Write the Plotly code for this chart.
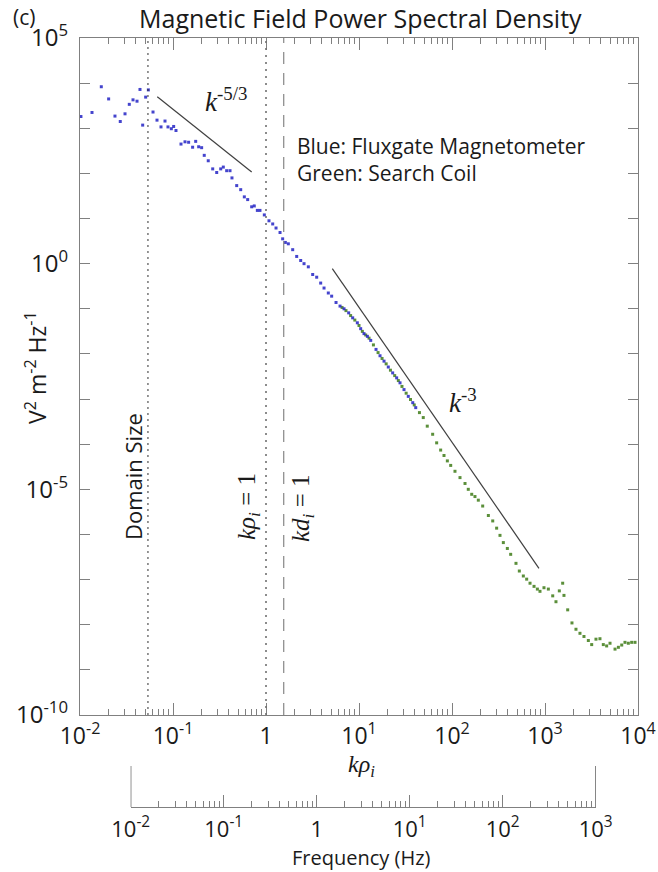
import numpy as np
import plotly.graph_objects as go

# ---------------- data (log10 values) ----------------
blue_log_k = [-1.99, -1.871, -1.771, -1.692, -1.624, -1.567, -1.516, -1.47, -1.43, -1.387,
              -1.355, -1.326, -1.294, -1.265, -1.215, -1.172, -1.129, -1.086, -1.054, -1.018,
              -0.993, -0.968, -0.914, -0.871, -0.832, -0.789, -0.756, -0.724, -0.692, -0.664,
              -0.621, -0.573, -0.530, -0.487, -0.459, -0.423, -0.387, -0.366, -0.315, -0.272,
              -0.233, -0.197, -0.154, -0.126, -0.093, -0.065, -0.018, 0.032, 0.072, 0.108,
              0.151, 0.179, 0.208, 0.240, 0.287, 0.330, 0.373, 0.409, 0.455, 0.502,
              0.545, 0.588, 0.624, 0.670, 0.706, 0.753, 0.796, 0.839, 0.889, 0.932,
              0.982, 1.018, 1.054, 1.090, 1.126, 1.183, 1.226, 1.269, 1.315, 1.362,
              1.405, 1.441, 1.484, 1.530, 1.578, 1.610]
blue_log_psd = [3.26, 3.35, 3.92, 3.65, 3.27, 3.15, 3.32, 3.53, 3.63, 3.60,
                3.86, 3.07, 3.69, 3.85, 3.36, 3.18, 3.03, 3.16, 3.03, 2.99,
                3.04, 2.95, 2.65, 2.70, 2.69, 2.58, 2.71, 2.59, 2.57, 2.40,
                2.28, 2.10, 2.02, 2.10, 2.14, 2.06, 2.06, 1.90, 1.73, 1.64,
                1.48, 1.42, 1.26, 1.28, 1.18, 1.18, 1.08, 0.95, 0.88, 0.79,
                0.69, 0.55, 0.47, 0.44, 0.31, 0.16, 0.07, 0.00, -0.07, -0.24,
                -0.30, -0.43, -0.54, -0.65, -0.72, -0.86, -0.94, -1.00, -1.09, -1.20,
                -1.31, -1.44, -1.55, -1.61, -1.70, -1.90, -2.04, -2.16, -2.29, -2.42,
                -2.53, -2.64, -2.79, -2.94, -3.08, -3.19]

green_log_k = [0.818, 0.860, 0.910, 0.955, 1.000, 1.036, 1.072, 1.108, 1.155, 1.205,
               1.248, 1.292, 1.338, 1.384, 1.423, 1.462, 1.507, 1.554, 1.594, 1.650,
               1.691, 1.734, 1.792, 1.835, 1.878, 1.914, 1.950, 1.986, 2.032, 2.086,
               2.140, 2.175, 2.212, 2.247, 2.283, 2.330, 2.391, 2.438, 2.480, 2.516,
               2.552, 2.595, 2.631, 2.688, 2.724, 2.767, 2.803, 2.839, 2.882, 2.918,
               2.946, 2.989, 3.036, 3.083, 3.118, 3.154, 3.190, 3.204, 3.244, 3.290,
               3.333, 3.376, 3.419, 3.466, 3.502, 3.548, 3.591, 3.627, 3.663, 3.699,
               3.753, 3.789, 3.825, 3.860, 3.896, 3.932, 3.968]
green_log_psd = [-0.97, -1.04, -1.15, -1.25, -1.37, -1.50, -1.58, -1.65, -1.80, -1.97,
                 -2.10, -2.22, -2.36, -2.48, -2.59, -2.72, -2.87, -3.01, -3.13, -3.30,
                 -3.41, -3.60, -3.78, -3.97, -4.13, -4.25, -4.37, -4.47, -4.60, -4.74,
                 -4.87, -5.00, -5.11, -5.16, -5.24, -5.37, -5.58, -5.70, -5.86, -6.02,
                 -6.18, -6.31, -6.44, -6.64, -6.81, -6.92, -6.99, -7.08, -7.15, -7.21,
                 -7.26, -7.18, -7.21, -7.36, -7.49, -7.25, -7.08, -7.35, -7.67, -7.96,
                 -8.10, -8.19, -8.26, -8.35, -8.44, -8.32, -8.31, -8.44, -8.47, -8.41,
                 -8.54, -8.50, -8.45, -8.39, -8.41, -8.39, -8.39]

slope53_log_k = [-1.169, -0.154]
slope53_log_psd = [3.70, 2.03]
slope3_log_k = [0.713, 2.935]
slope3_log_psd = [-0.11, -6.75]

domain_size_k = 0.0538
k_rho_one = 1.0
k_di_one = 1.55

x_tick_vals = [1e-2, 1e-1, 1, 1e1, 1e2, 1e3, 1e4]
x_tick_text = ["10<sup>-2</sup>", "10<sup>-1</sup>", "1", "10<sup>1</sup>",
               "10<sup>2</sup>", "10<sup>3</sup>", "10<sup>4</sup>"]
freq_tick_vals = [1e-2, 1e-1, 1, 1e1, 1e2, 1e3]
freq_tick_text = ["10<sup>-2</sup>", "10<sup>-1</sup>", "1", "10<sup>1</sup>",
                  "10<sup>2</sup>", "10<sup>3</sup>"]
y_exponents = list(range(-10, 6))
y_tick_labels = {5: "10<sup>5</sup>", 0: "10<sup>0</sup>", -5: "10<sup>-5</sup>", -10: "10<sup>-10</sup>"}

# ---------------- helpers ----------------
def to_lin(vals):
    return np.power(10.0, np.array(vals, dtype=float))

W, H = 658, 872
ML, MR, MT, MB = 80, 20, 38, 65
PW = W - ML - MR
PH = H - MT - MB

def px(x):
    return (x - ML) / PW

def py(y):
    return (H - MB - y) / PH

AX = "#808080"
TXT = "#1a1a1a"
SANS = "Open Sans"
SERIF = "Liberation Serif"

def minor_vals(lo, hi):
    return [m * 10.0 ** d for d in range(lo, hi) for m in range(2, 10)]

fig = go.Figure()

fig.add_trace(go.Scatter(x=to_lin(green_log_k), y=to_lin(green_log_psd), mode="markers",
                         marker=dict(symbol="square", size=3, color="#5b8f3a"),
                         xaxis="x", yaxis="y", showlegend=False))
fig.add_trace(go.Scatter(x=to_lin(blue_log_k), y=to_lin(blue_log_psd), mode="markers",
                         marker=dict(symbol="square", size=3, color="#2323c4", opacity=0.85),
                         xaxis="x", yaxis="y", showlegend=False))
fig.add_trace(go.Scatter(x=to_lin(slope53_log_k), y=to_lin(slope53_log_psd), mode="lines",
                         line=dict(color="#404040", width=1.2), showlegend=False))
fig.add_trace(go.Scatter(x=to_lin(slope3_log_k), y=to_lin(slope3_log_psd), mode="lines",
                         line=dict(color="#404040", width=1.2), showlegend=False))

# vertical reference lines
fig.add_shape(type="line", xref="x", yref="y domain", x0=domain_size_k, x1=domain_size_k,
              y0=0, y1=1, line=dict(color="#303030", width=1, dash="2px,4px"))
fig.add_shape(type="line", xref="x", yref="y domain", x0=k_rho_one, x1=k_rho_one,
              y0=0, y1=1, line=dict(color="#707070", width=1.6, dash="2px,5px"))
fig.add_shape(type="line", xref="x", yref="y domain", x0=k_di_one, x1=k_di_one,
              y0=0, y1=1, line=dict(color="#909090", width=1.3, dash="12px,9px"))

# end bars of the frequency axis
for fv in (freq_tick_vals[0], freq_tick_vals[-1]):
    fig.add_shape(type="line", xref="x2", yref="y2 domain", x0=fv, x1=fv, y0=0, y1=1,
                  line=dict(color="#404040", width=1.2))

ann = []
def text(x, y, s, size, font=SANS, angle=0, xanchor="center", color=TXT, align="center"):
    ann.append(dict(x=px(x), y=py(y), xref="paper", yref="paper", text=s, showarrow=False,
                    font=dict(family=font, size=size, color=color), textangle=angle,
                    xanchor=xanchor, yanchor="middle", align=align, borderpad=0))

text(360, 18, "Magnetic Field Power Spectral Density", 25)
text(24, 17, "(c)", 21)
text(296, 160, "Blue: Fluxgate Magnetometer<br>Green: Search Coil", 21,
     xanchor="left", align="left")
text(226, 100, "<i>k</i><sup>-5/3</sup>", 27, font=SERIF)
text(463, 401, "<i>k</i><sup>-3</sup>", 27, font=SERIF)
text(133, 477, "Domain Size", 22, angle=-90)
text(248, 507, "<i>kρ</i><sub><i>i</i></sub> = 1", 25, font=SERIF, angle=-90)
text(302, 508, "<i>kd</i><sub><i>i</i></sub> = 1", 25, font=SERIF, angle=-90)
text(36, 368, "V<sup>2</sup> m<sup>-2</sup> Hz<sup>-1</sup>", 23, angle=-90)
text(361, 766, "<i>kρ</i><sub><i>i</i></sub>", 24, font=SERIF)
text(361, 857, "Frequency (Hz)", 20)

fig.update_layout(
    width=W, height=H,
    margin=dict(l=ML, r=MR, t=MT, b=MB, autoexpand=False),
    paper_bgcolor="white", plot_bgcolor="white",
    showlegend=False,
    annotations=ann,
    xaxis=dict(type="log", range=[-2, 4], domain=[0, 1], anchor="y", automargin=False,
               showline=True, linecolor=AX, linewidth=1.3, mirror="ticks",
               ticks="inside", ticklen=12, tickwidth=1.2, tickcolor=AX,
               tickvals=x_tick_vals, ticktext=x_tick_text,
               tickfont=dict(family=SANS, size=23, color=TXT),
               ticklabelstandoff=0,
               minor=dict(tickvals=minor_vals(-2, 4), ticks="inside", ticklen=6,
                          tickcolor=AX, tickwidth=1, showgrid=False),
               showgrid=False, zeroline=False),
    yaxis=dict(type="log", range=[-10, 5], domain=[py(715), 1], anchor="x", automargin=False,
               showline=True, linecolor=AX, linewidth=1.3, mirror="ticks",
               ticks="inside", ticklen=10, tickwidth=1.2, tickcolor=AX,
               tickvals=[10.0 ** e for e in y_exponents],
               ticktext=[y_tick_labels.get(e, "") for e in y_exponents],
               tickfont=dict(family=SANS, size=24, color=TXT),
               ticklabelstandoff=6,
               showgrid=False, zeroline=False),
    xaxis2=dict(type="log", range=[-2, 3], domain=[px(130.7), px(595.7)], anchor="y2",
                automargin=False,
                showline=True, linecolor=AX, linewidth=1.3,
                ticks="inside", ticklen=12, tickwidth=1.2, tickcolor=AX,
                tickvals=freq_tick_vals, ticktext=freq_tick_text,
                tickfont=dict(family=SANS, size=22, color=TXT),
                ticklabelstandoff=2,
                minor=dict(tickvals=minor_vals(-2, 3), ticks="inside", ticklen=6,
                           tickcolor=AX, tickwidth=1, showgrid=False),
                showgrid=False, zeroline=False),
    yaxis2=dict(domain=[0, py(766)], range=[0, 1], visible=False, anchor="x2",
                automargin=False),
)

fig.write_html("out.html")
